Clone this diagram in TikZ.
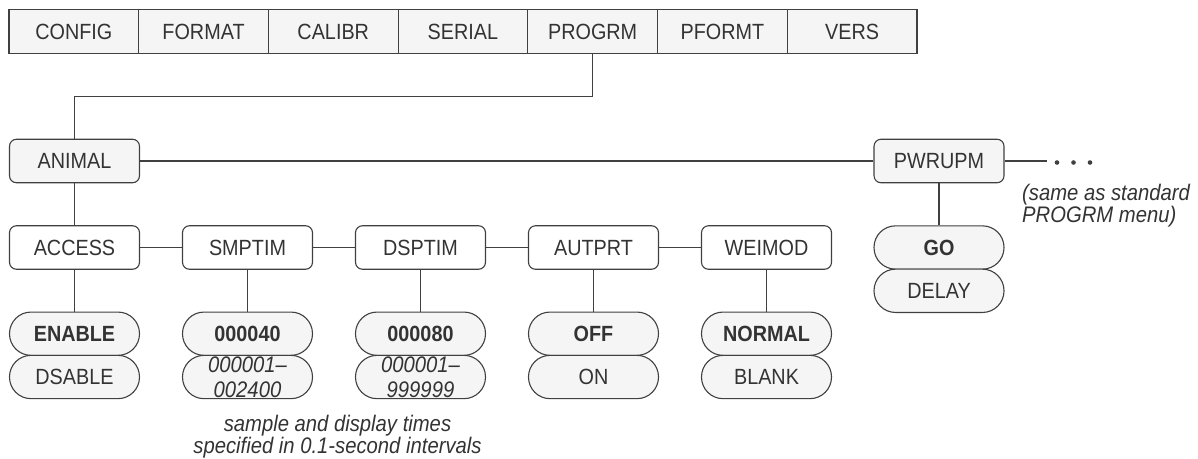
\documentclass[tikz,border=0pt]{standalone}
\usepackage{fontspec}
\setmainfont[FakeStretch=0.9]{Liberation Sans}
\definecolor{ln}{HTML}{404040}
\definecolor{tx}{HTML}{333333}
\definecolor{fl}{HTML}{F5F5F5}
\begin{document}
\begin{tikzpicture}[x=1pt,y=-1pt,
  every node/.style={font=\fontsize{22}{26}\selectfont, text=tx, inner sep=0pt},
  bar/.style={draw=ln, line width=1.2pt, fill=fl, minimum width=129.7pt, minimum height=44pt, text height=15.75pt, text depth=0pt},
  menu/.style={draw=ln, line width=1.1pt, fill=white, rounded corners=7pt, minimum width=130pt, minimum height=43.5pt, text height=15.75pt, text depth=0pt},
  gmenu/.style={menu, fill=fl},
  val/.style={draw=ln, line width=1.1pt, fill=fl, rounded corners=21.5pt, minimum width=130pt, minimum height=43.3pt, text height=15.75pt, text depth=0pt},
  val2/.style={draw=ln, line width=1.1pt, fill=fl, rounded corners=21.5pt, minimum width=130pt, minimum height=43.3pt, align=center, font=\fontsize{22.5}{25}\selectfont\itshape},
  conn/.style={draw=ln, line width=1.1pt},
  note/.style={font=\fontsize{22.5}{21.5}\selectfont\itshape},
  dot/.style={circle, fill=ln, minimum size=4.6pt}]
\useasboundingbox (0,0) rectangle (1198,458);

% top menu bar
\node[bar] (config) at (73.85,31.3) {CONFIG};
\node[bar] (format) at (203.55,31.3) {FORMAT};
\node[bar] (calibr) at (333.25,31.3) {CALIBR};
\node[bar] (serial) at (462.95,31.3) {SERIAL};
\node[bar] (progrm) at (592.65,31.3) {PROGRM};
\node[bar] (pformt) at (722.35,31.3) {PFORMT};
\node[bar] (vers) at (852.05,31.3) {VERS};

% level 1
\node[gmenu] (animal) at (74.5,161) {ANIMAL};
\node[gmenu] (pwrupm) at (939,161) {PWRUPM};

% level 2
\node[menu] (access) at (74.5,247.5) {ACCESS};
\node[menu] (smptim) at (247.5,247.5) {SMPTIM};
\node[menu] (dsptim) at (420.5,247.5) {DSPTIM};
\node[menu] (autprt) at (593.5,247.5) {AUTPRT};
\node[menu] (weimod) at (766.5,247.5) {WEIMOD};

% values
\node[val] (go) at (939,247.5) {\bfseries GO};
\node[val] (delay) at (939,290.8) {DELAY};

\node[val] (enable) at (74.5,333.7) {\bfseries ENABLE};
\node[val] (dsable) at (74.5,377) {DSABLE};
\node[val] (v40) at (247.5,333.7) {\bfseries 000040};
\node[val2] (r1) at (247.5,377) {000001–\\002400};
\node[val] (v80) at (420.5,333.7) {\bfseries 000080};
\node[val2] (r2) at (420.5,377) {000001–\\999999};
\node[val] (off) at (593.5,333.7) {\bfseries OFF};
\node[val] (on) at (593.5,377) {ON};
\node[val] (normal) at (766.5,333.7) {\bfseries NORMAL};
\node[val] (blank) at (766.5,377) {BLANK};

% connectors
\coordinate (mid) at (0,96.7);
\draw[conn] (progrm.south) -- (progrm.south |- mid) -| (animal.north);
\draw[conn] (animal.east) -- (pwrupm.west);
\draw[conn] (animal.south) -- (access.north);
\draw[conn] (access.east) -- (smptim.west);
\draw[conn] (smptim.east) -- (dsptim.west);
\draw[conn] (dsptim.east) -- (autprt.west);
\draw[conn] (autprt.east) -- (weimod.west);
\draw[conn] (access.south) -- (enable.north);
\draw[conn] (smptim.south) -- (v40.north);
\draw[conn] (dsptim.south) -- (v80.north);
\draw[conn] (autprt.south) -- (off.north);
\draw[conn] (weimod.south) -- (normal.north);
\draw[conn] (pwrupm.south) -- (go.north);

\coordinate (lineend) at (1046.7,161);
\draw[conn] (pwrupm.east) -- (lineend);
\node[dot] (d1) at (1057,162.5) {};
\node[dot] (d2) at (1073.5,162.5) {};
\node[dot] (d3) at (1090,162.5) {};

% notes
\node[note, anchor=north west, align=left] (same) at (1022,184) {(same as standard\\PROGRM menu)};
\node[note, anchor=north, align=center] (times) at (337.5,415) {sample and display times\\specified in 0.1-second intervals};
\end{tikzpicture}
\end{document}
